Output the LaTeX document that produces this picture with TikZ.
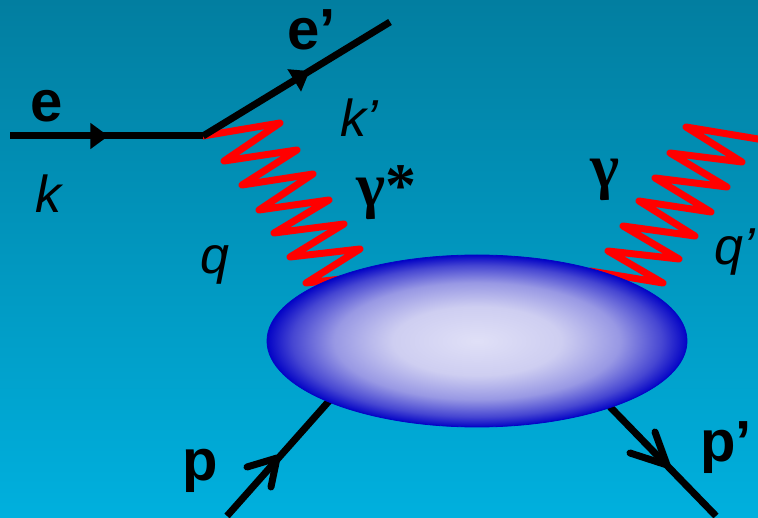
\documentclass[tikz,border=0pt]{standalone}
\usepackage{fontspec}
\setmainfont{Liberation Sans}
\newfontfamily\greekfont{Liberation Serif}
\usetikzlibrary{arrows.meta,decorations.markings,shapes.geometric}
\definecolor{bgtop}{RGB}{2,126,160}
\definecolor{bgbot}{RGB}{0,176,222}
\definecolor{photon}{RGB}{255,0,0}
\definecolor{blobin}{RGB}{224,224,247}
\definecolor{blobmidA}{RGB}{206,206,241}
\definecolor{blobmidB}{RGB}{152,152,228}
\definecolor{blobmidC}{RGB}{70,70,210}
\definecolor{blobout}{RGB}{4,4,198}
\pgfdeclareradialshading{blobshade}{\pgfpoint{0bp}{0bp}}{color(0bp)=(blobin); color(10bp)=(blobmidA); color(17bp)=(blobmidB); color(22bp)=(blobmidC); color(25bp)=(blobout); color(50bp)=(blobout)}
\tikzset{
  fermion/.style={line width=7pt, black},
  chevron/.style={line width=7pt, black, line cap=round, line join=round},
  photonline/.style={line width=7pt, photon, line join=round, line cap=round},
  triarrow/.style={postaction={decorate}, decoration={markings, mark=at position #1 with {\arrow{Triangle[length=18pt,width=25pt]}}}},
  bflbl/.style={inner sep=0pt, anchor=base west, font=\fontsize{58}{60}\selectfont\bfseries},
  itlbl/.style={inner sep=0pt, anchor=base west, font=\fontsize{52}{54}\selectfont\itshape},
  gammalbl/.style={inner sep=0pt, anchor=center, font=\fontsize{62}{64}\selectfont\greekfont\bfseries},
  blobstyle/.style={ellipse, minimum width=420pt, minimum height=172pt, inner sep=0pt, shading=blobshade, draw=blobout, line width=0.8pt}
}
\begin{document}
\begin{tikzpicture}[x=1pt, y=-1pt]
  \useasboundingbox (0,0) rectangle (758,518);
  \shade[top color=bgtop, bottom color=bgbot] (0,0) rectangle (758,518);
  \clip (0,0) rectangle (758,518);
  % coordinates
  \coordinate (v) at (203,136);
  \coordinate (ein) at (10,136);
  \coordinate (eout) at (390,22);
  \coordinate (pin) at (227,516);
  \coordinate (pend) at (345,383);
  \coordinate (pstart) at (584,380);
  \coordinate (pout) at (716,516);
  \coordinate (ptip) at (277,458);
  \coordinate (potip) at (667,465);
  % photons
  \draw[photonline] (v) -- (280,123) -- (224,161) -- (297,150) -- (242,185) -- (313,174) -- (259,210) -- (329,200) -- (274,233) -- (344,224) -- (290,257) -- (360,249) -- (306,283) -- (350,278);
  \draw[photonline] (800,146) -- (686,127) -- (742,162) -- (670,153) -- (727,187) -- (655,178) -- (711,212) -- (639,201) -- (695,236) -- (623,226) -- (679,259) -- (608,251) -- (663,283) -- (590,271);
  % electron
  \draw[fermion, triarrow=0.51] (ein) -- (v);
  \draw[fermion, triarrow=0.57] (v) -- (eout);
  % protons
  \draw[fermion] (pin) -- (pend);
  \draw[chevron] (247,467) -- (ptip) -- (271,487);
  \draw[fermion] (pstart) -- (pout);
  \draw[chevron] (630,453) -- (potip) -- (655,432);
  % blob
  \node[blobstyle] (blob) at (477,341) {};
  % labels
  \node[bflbl] (le) at (30,122) {e};
  \node[bflbl] (leo) at (287,50) {e’};
  \node[itlbl] (lk) at (35,213) {k};
  \node[itlbl] (lko) at (340,137) {k’};
  \node[itlbl] (lq) at (200,274) {q};
  \node[itlbl] (lqo) at (714,265) {q’};
  \node[bflbl] (lp) at (182,480) {p};
  \node[bflbl] (lpo) at (700,462) {p’};
  \node[gammalbl] (lgs) at (386,193) {γ*};
  \node[gammalbl] (lg) at (605,180) {γ};
\end{tikzpicture}
\end{document}
